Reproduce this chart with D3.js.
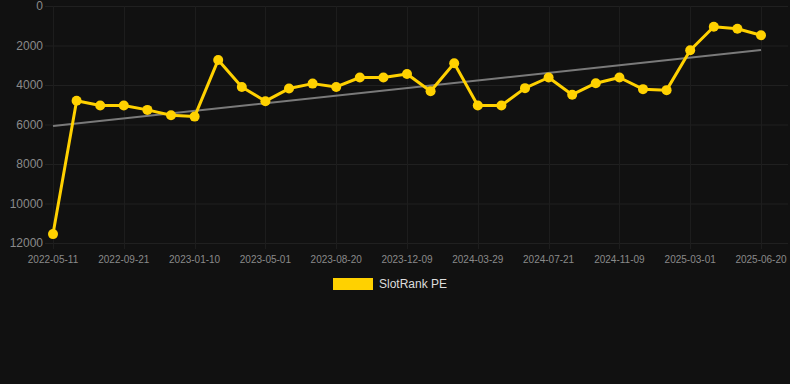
<!DOCTYPE html>
<html>
<head>
<meta charset="utf-8">
<script src="https://cdn.jsdelivr.net/npm/d3@7"></script>
<style>
  html, body { margin: 0; padding: 0; background: #111111; }
  svg { display: block; font-family: "Liberation Sans", Arial, sans-serif; }
</style>
</head>
<body>
<svg id="chart" width="790" height="384"></svg>
<script>
// dates shown on the axis every third point; the ones between are estimates
const dates = [
  "2022-05-11", "2022-06-25", "2022-08-08", "2022-09-21", "2022-10-28", "2022-12-04",
  "2023-01-10", "2023-02-18", "2023-03-25", "2023-05-01", "2023-06-06", "2023-07-13",
  "2023-08-20", "2023-09-25", "2023-11-01", "2023-12-09", "2024-01-14", "2024-02-21",
  "2024-03-29", "2024-05-05", "2024-06-13", "2024-07-21", "2024-08-26", "2024-10-03",
  "2024-11-09", "2024-12-17", "2025-01-23", "2025-03-01", "2025-04-06", "2025-05-13",
  "2025-06-20"
];
const rankValues = [
  11550, 4800, 5040, 5040, 5260, 5530, 5600, 2730, 4100, 4820, 4180, 3930,
  4100, 3620, 3620, 3440, 4320, 2900, 5040, 5040, 4160, 3620, 4490, 3910,
  3620, 4210, 4260, 2240, 1050, 1150, 1480
];
const yTicks = [0, 2000, 4000, 6000, 8000, 10000, 12000];
const seriesName = "SlotRank PE";

const svg = d3.select("#chart");
const dims = { left: 45, right: 788, top: 6, bottom: 243, x0: 53, x1: 761 };

const x = d3.scalePoint().domain(dates).range([dims.x0, dims.x1]);
const y = d3.scaleLinear().domain([0, 12000]).range([dims.top, dims.bottom]);
const tickDates = dates.filter((d, i) => i % 3 === 0);

// horizontal grid + y labels
const gy = svg.append("g");
gy.selectAll("line")
  .data(yTicks)
  .join("line")
  .attr("x1", dims.left)
  .attr("x2", dims.right)
  .attr("y1", (d) => y(d) + 0.5)
  .attr("y2", (d) => y(d) + 0.5)
  .attr("stroke", "#202020");
gy.selectAll("text")
  .data(yTicks)
  .join("text")
  .attr("x", 43)
  .attr("y", (d) => y(d))
  .attr("dy", "0.35em")
  .attr("text-anchor", "end")
  .attr("fill", "#8a8a8a")
  .attr("font-size", 12)
  .text((d) => d);

// vertical grid + x labels
const gx = svg.append("g");
gx.selectAll("line")
  .data(tickDates)
  .join("line")
  .attr("x1", (d) => Math.round(x(d)) + 0.5)
  .attr("x2", (d) => Math.round(x(d)) + 0.5)
  .attr("y1", dims.top)
  .attr("y2", dims.bottom + 6)
  .attr("stroke", "#1d1d1d");
gx.selectAll("text")
  .data(tickDates)
  .join("text")
  .attr("x", (d) => x(d))
  .attr("y", 263)
  .attr("text-anchor", "middle")
  .attr("fill", "#8a8a8a")
  .attr("font-size", 10)
  .text((d) => d);

// least squares trend through the series
const n = rankValues.length;
const mx = d3.mean(rankValues, (d, i) => i);
const my = d3.mean(rankValues);
const slope =
  d3.sum(rankValues, (d, i) => (i - mx) * (d - my)) /
  d3.sum(rankValues, (d, i) => (i - mx) * (i - mx));
const trend = [0, n - 1].map((i) => [dates[i], my + slope * (i - mx)]);

svg.append("path")
  .datum(trend)
  .attr("fill", "none")
  .attr("stroke", "#7a7a7a")
  .attr("stroke-width", 2)
  .attr("d", d3.line().x((d) => x(d[0])).y((d) => y(d[1])));

const color = "#FFD100";
const series = dates.map((d, i) => [d, rankValues[i]]);

svg.append("path")
  .datum(series)
  .attr("fill", "none")
  .attr("stroke", color)
  .attr("stroke-width", 3)
  .attr("stroke-linejoin", "round")
  .attr("d", d3.line().x((d) => x(d[0])).y((d) => y(d[1])));

svg.append("g")
  .selectAll("circle")
  .data(series)
  .join("circle")
  .attr("cx", (d) => x(d[0]))
  .attr("cy", (d) => y(d[1]))
  .attr("r", 5)
  .attr("fill", color);

// legend
const lg = svg.append("g").attr("transform", "translate(333,278)");
lg.append("rect").attr("width", 40).attr("height", 12).attr("fill", color);
lg.append("text")
  .attr("x", 46)
  .attr("y", 6)
  .attr("dy", "0.35em")
  .attr("fill", "#dddddd")
  .attr("font-size", 12)
  .text(seriesName);
</script>
</body>
</html>
